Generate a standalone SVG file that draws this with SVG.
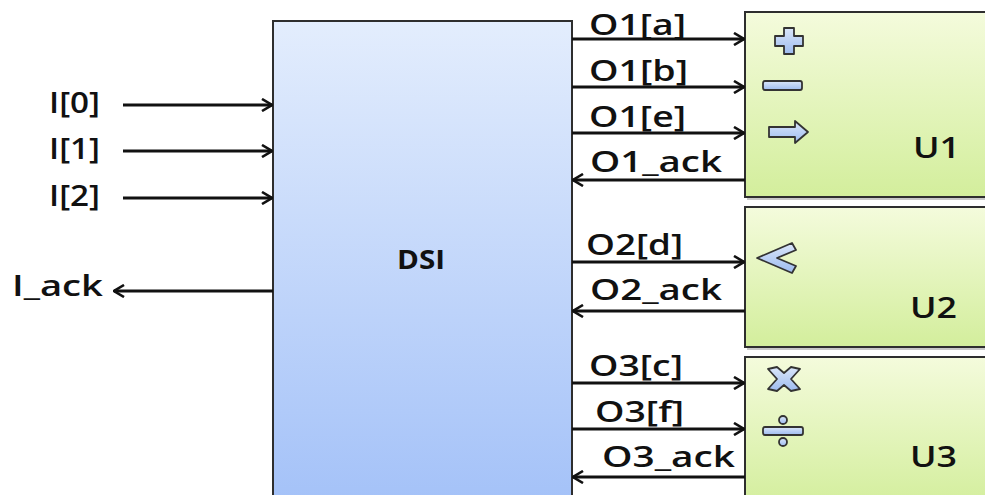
<svg xmlns="http://www.w3.org/2000/svg" width="985" height="495" viewBox="0 0 985 495">
<defs>
<linearGradient id="gBlue" x1="0" y1="0" x2="0" y2="1">
<stop offset="0" stop-color="#e3edfd"/>
<stop offset="1" stop-color="#a3c1f8"/>
</linearGradient>
<linearGradient id="gGreen" x1="0" y1="0" x2="0" y2="1">
<stop offset="0" stop-color="#f4fbdc"/>
<stop offset="1" stop-color="#d3ee9c"/>
</linearGradient>
<linearGradient id="gIcon" x1="0" y1="0" x2="0" y2="1">
<stop offset="0" stop-color="#dbe7fa"/>
<stop offset="1" stop-color="#9dbbef"/>
</linearGradient>
<marker id="arr" viewBox="0 0 12 14" refX="11" refY="7" markerWidth="12" markerHeight="14" markerUnits="userSpaceOnUse" orient="auto">
<path d="M1,1 L11,7 L1,13" fill="none" stroke="#111" stroke-width="2.6"/>
</marker>
</defs>
<style>
.lbl{font-family:"Open Sans","DejaVu Sans",sans-serif;font-size:28px;font-weight:600;fill:#111}
.bold{font-family:"Open Sans","DejaVu Sans",sans-serif;font-size:26px;font-weight:bold;fill:#111}
.wire{stroke:#111;stroke-width:3;fill:none;marker-end:url(#arr)}
.box{stroke:#2e2e2e;stroke-width:2}
.shadow{fill:#c8c8c8}
.icon{fill:url(#gIcon);stroke:#333;stroke-width:1.8;stroke-linejoin:round}
</style>
<rect width="985" height="495" fill="#fff"/>

<g id="DSI">
<rect class="box" x="273" y="21" width="299" height="490" fill="url(#gBlue)"/>
<text class="bold" x="397" y="269" textLength="48" lengthAdjust="spacingAndGlyphs">DSI</text>
</g>

<g id="U1">
<rect class="shadow" x="747" y="14" width="260" height="186"/>
<rect class="box" x="745" y="12" width="260" height="185" fill="url(#gGreen)"/>
<path class="icon" d="M784,28 h10 v8 h9 v10 h-9 v8 h-10 v-8 h-9 v-10 h9 z"/>
<rect class="icon" x="763" y="81" width="39" height="9" rx="2"/>
<path class="icon" d="M769,127 h26 v-6 l13,11 l-13,11 v-6 h-26 z"/>
<text class="lbl" x="913" y="158" textLength="47" lengthAdjust="spacingAndGlyphs">U1</text>
</g>

<g id="U2">
<rect class="shadow" x="747" y="209" width="260" height="141"/>
<rect class="box" x="745" y="207" width="260" height="140" fill="url(#gGreen)"/>
<path class="icon" d="M757,258 L792,243 L796,250 L777,258 L796,266 L792,273 Z"/>
<text class="lbl" x="910" y="318" textLength="47" lengthAdjust="spacingAndGlyphs">U2</text>
</g>

<g id="U3">
<rect class="shadow" x="747" y="359" width="260" height="150"/>
<rect class="box" x="745" y="357" width="260" height="150" fill="url(#gGreen)"/>
<path class="icon" d="M768,369 L777,367 L784,373 L791,367 L800,369 L791,379 L800,389 L791,391 L784,385 L777,391 L768,389 L777,379 Z"/>
<rect class="icon" x="763" y="427" width="40" height="8" rx="2"/>
<circle class="icon" cx="783" cy="420" r="4"/>
<circle class="icon" cx="783" cy="442" r="4"/>
<text class="lbl" x="910" y="467" textLength="47" lengthAdjust="spacingAndGlyphs">U3</text>
</g>

<g id="connectors">
<line class="wire" x1="123" y1="105" x2="272" y2="105"/>
<line class="wire" x1="123" y1="151" x2="272" y2="151"/>
<line class="wire" x1="123" y1="198" x2="272" y2="198"/>
<line class="wire" x1="273" y1="291" x2="114" y2="291"/>
<line class="wire" x1="572" y1="39" x2="744" y2="39"/>
<line class="wire" x1="572" y1="87" x2="744" y2="87"/>
<line class="wire" x1="572" y1="133" x2="744" y2="133"/>
<line class="wire" x1="745" y1="180" x2="573" y2="180"/>
<line class="wire" x1="572" y1="262" x2="744" y2="262"/>
<line class="wire" x1="745" y1="311" x2="573" y2="311"/>
<line class="wire" x1="572" y1="383" x2="744" y2="383"/>
<line class="wire" x1="572" y1="429" x2="744" y2="429"/>
<line class="wire" x1="745" y1="477" x2="573" y2="477"/>
</g>

<g id="labels">
<text class="lbl" x="49" y="113" textLength="51" lengthAdjust="spacingAndGlyphs">I[0]</text>
<text class="lbl" x="49" y="159" textLength="51" lengthAdjust="spacingAndGlyphs">I[1]</text>
<text class="lbl" x="49" y="206" textLength="51" lengthAdjust="spacingAndGlyphs">I[2]</text>
<text class="lbl" x="12" y="296" textLength="91" lengthAdjust="spacingAndGlyphs">I_ack</text>
<text class="lbl" x="589" y="35" textLength="97" lengthAdjust="spacingAndGlyphs">O1[a]</text>
<text class="lbl" x="589" y="81" textLength="99" lengthAdjust="spacingAndGlyphs">O1[b]</text>
<text class="lbl" x="589" y="127" textLength="97" lengthAdjust="spacingAndGlyphs">O1[e]</text>
<text class="lbl" x="590" y="172" textLength="132" lengthAdjust="spacingAndGlyphs">O1_ack</text>
<text class="lbl" x="586" y="255" textLength="97" lengthAdjust="spacingAndGlyphs">O2[d]</text>
<text class="lbl" x="590" y="300" textLength="132" lengthAdjust="spacingAndGlyphs">O2_ack</text>
<text class="lbl" x="589" y="376" textLength="94" lengthAdjust="spacingAndGlyphs">O3[c]</text>
<text class="lbl" x="595" y="422" textLength="89" lengthAdjust="spacingAndGlyphs">O3[f]</text>
<text class="lbl" x="602" y="467" textLength="133" lengthAdjust="spacingAndGlyphs">O3_ack</text>
</g>
</svg>
